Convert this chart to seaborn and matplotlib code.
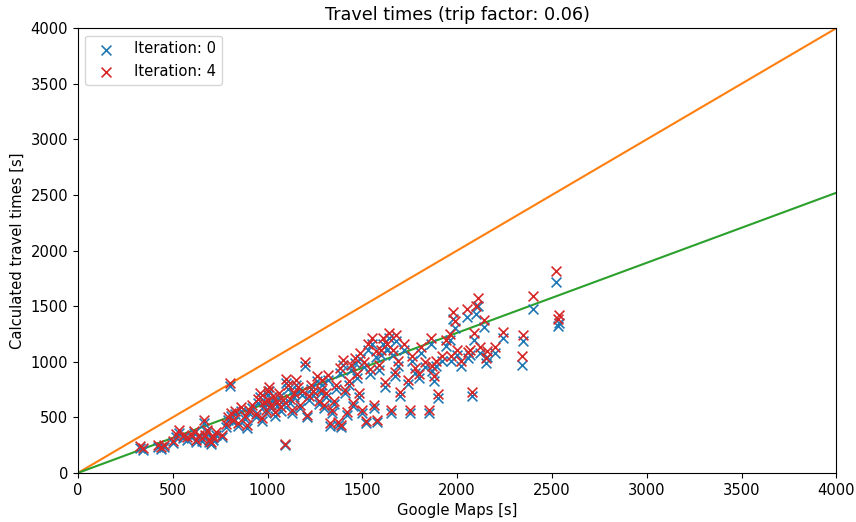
import numpy as np
import pandas as pd
import seaborn as sns
import matplotlib.pyplot as plt

# Google Maps travel time per trip [s]
gmaps = [330, 345, 420, 440, 455, 500, 520, 535, 555, 575, 600, 610, 625, 640, 655,
         665, 670, 680, 690, 700, 705, 715, 730, 760, 780, 790, 800, 810, 820, 830,
         845, 860, 880, 890, 900,
         920, 940, 950, 960, 970, 980, 990, 1000, 1005, 1010, 1020, 1030, 1040, 1050,
         1060, 1070, 1080, 1090, 1100, 1110, 1120, 1130, 1140, 1150, 1160, 1170, 1180,
         1200, 1210, 1220, 1230, 1240, 1260, 1270, 1280, 1290, 1300,
         1310, 1320, 1330, 1340, 1350, 1360, 1370, 1380, 1390, 1400, 1410, 1420, 1430,
         1440, 1450, 1460, 1470, 1480, 1490, 1500, 1510, 1520, 1530, 1540, 1550, 1560,
         1570, 1580, 1590, 1600, 1610, 1620, 1630, 1640, 1650, 1660, 1670, 1680, 1690,
         1700,
         1720, 1740, 1750, 1760, 1780, 1800, 1810, 1830, 1850, 1860, 1870, 1880, 1890,
         1900, 1920, 1940, 1960, 1970, 1980, 1990, 2000, 2020, 2050, 2060, 2070, 2080,
         2090, 2100, 2110, 2120, 2140, 2150, 2160, 2200, 2240,
         2340, 2350, 2400, 2520, 2530, 2540]

# calculated travel time, iteration 0 [s]
calc_it0 = [225, 210, 235, 215, 230, 270, 325, 360, 315, 300, 320, 355, 280, 325, 290,
            450, 320, 365, 280, 260, 315, 300, 345, 320, 415, 480, 780, 510, 455, 530,
            420, 560, 485, 405, 540,
            580, 500, 630, 680, 465, 600, 540, 700, 620, 740, 580, 655, 515, 600,
            680, 560, 620, 250, 810, 755, 630, 540, 680, 795, 735, 580, 700,
            960, 500, 660, 755, 700, 830, 620, 715, 795, 580,
            680, 840, 425, 540, 620, 755, 435, 900, 415, 970, 715, 520, 790,
            930, 600, 985, 850, 680, 1025, 540, 950, 445, 1110, 890, 1160, 580,
            1045, 455, 930, 1060, 1160, 775, 1110, 1210, 540, 1060, 870, 1190, 965,
            695,
            1110, 800, 540, 1010, 900, 850, 1080, 955, 540, 1160, 915, 830, 965,
            675, 1010, 1140, 1195, 1010, 1380, 1300, 1060, 965, 1400, 1035, 1060, 690,
            1200, 1430, 1500, 1080, 1310, 985, 1045, 1080, 1210,
            970, 1190, 1470, 1720, 1320, 1350]

# calculated travel time, iteration 4 [s]
calc_it4 = [240, 225, 255, 230, 250, 290, 350, 385, 335, 320, 345, 375, 300, 345, 310,
            480, 340, 390, 300, 275, 335, 320, 365, 340, 440, 505, 810, 540, 480, 560,
            445, 590, 510, 430, 570,
            610, 530, 665, 715, 490, 635, 570, 740, 655, 775, 610, 690, 545, 635,
            715, 590, 655, 260, 845, 790, 665, 570, 715, 835, 770, 610, 735,
            1000, 525, 695, 790, 735, 870, 650, 750, 835, 610,
            715, 880, 445, 570, 650, 790, 455, 945, 435, 1015, 750, 545, 830,
            975, 630, 1030, 890, 715, 1075, 570, 995, 465, 1160, 935, 1210, 610,
            1095, 480, 975, 1110, 1215, 815, 1160, 1260, 565, 1110, 910, 1245, 1010,
            730,
            1160, 840, 565, 1055, 945, 890, 1130, 1000, 565, 1215, 960, 870, 1010,
            710, 1055, 1195, 1250, 1055, 1450, 1365, 1110, 1010, 1470, 1085, 1110, 730,
            1255, 1500, 1575, 1130, 1375, 1030, 1095, 1130, 1265,
            1050, 1245, 1590, 1820, 1380, 1420]

# slope of the fitted line (green)
fit_slope = 0.63

df0 = pd.DataFrame({"gmaps": gmaps, "calc": calc_it0})
df4 = pd.DataFrame({"gmaps": gmaps, "calc": calc_it4})

plt.rcParams["font.size"] = 10.6

fig = plt.figure(figsize=(8.56, 5.22), dpi=100)
ax = fig.add_axes([0.091, 0.094, 0.886, 0.852])

lim = 4000
ax.plot([0, lim], [0, lim], color="tab:orange", linewidth=1.5, zorder=1)
ax.plot([0, lim], [0, lim * fit_slope], color="tab:green", linewidth=1.5, zorder=1)

sns.scatterplot(data=df0, x="gmaps", y="calc", marker="x", color="tab:blue",
                s=50, linewidth=1.2, label="Iteration: 0", ax=ax, zorder=2)
sns.scatterplot(data=df4, x="gmaps", y="calc", marker="x", color="tab:red",
                s=50, linewidth=1.2, label="Iteration: 4", ax=ax, zorder=3)

ax.set_xlim(0, lim)
ax.set_ylim(0, lim)
ax.set_xticks(np.arange(0, 4001, 500))
ax.set_yticks(np.arange(0, 4001, 500))
ax.set_xlabel("Google Maps [s]")
ax.set_ylabel("Calculated travel times [s]")
ax.set_title("Travel times (trip factor: 0.06)", fontsize=12.7)
ax.legend(loc="upper left", handletextpad=0.9)

plt.savefig("out.png", dpi=100)
